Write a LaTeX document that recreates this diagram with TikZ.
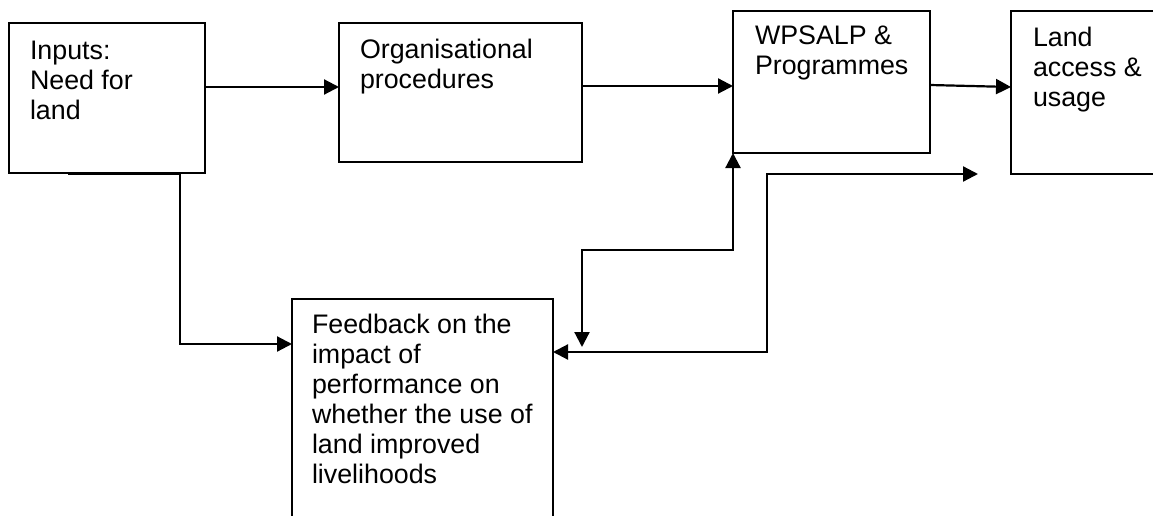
\documentclass[tikz,border=0pt]{standalone}
\usepackage{fontspec}
\setmainfont{Liberation Sans}
\usetikzlibrary{arrows.meta,calc}
\begin{document}
\begin{tikzpicture}[x=1pt,y=-1pt,
  box/.style={draw, line width=1.4pt, rectangle, inner sep=0pt, outer sep=0pt, anchor=north west},
  lbl/.style={anchor=north west, inner sep=0pt, outer sep=0pt, align=left, font=\fontsize{26.8}{30}\selectfont},
  conn/.style={line width=2.2pt, -{Triangle[length=15pt,width=15pt]}},
  dconn/.style={line width=2.2pt, {Triangle[length=15pt,width=15pt]}-{Triangle[length=15pt,width=15pt]}}]
\useasboundingbox (0,0) rectangle (1153,516);
\clip (0,0) rectangle (1153,516);
\fill[white] (0,0) rectangle (1153,516);
% boxes
\node[box, minimum width=196pt, minimum height=150pt] (inp) at (9,23) {};
\node[box, minimum width=243pt, minimum height=139pt] (org) at (339,23) {};
\node[box, minimum width=197pt, minimum height=142pt] (wps) at (733,11) {};
\node[box, minimum width=170pt, minimum height=163pt] (land) at (1011,11) {};
\node[box, minimum width=261pt, minimum height=240pt] (fb) at (292,299) {};
% texts
\node[lbl] (inpt) at ([xshift=21pt,yshift=-18pt]inp.north west) {Inputs:\\Need for\\land};
\node[lbl] (orgt) at ([xshift=21pt,yshift=-16.5pt]org.north west) {Organisational\\procedures};
\node[lbl] (wpst) at ([xshift=22pt,yshift=-14.7pt]wps.north west) {WPSALP \&\\Programmes};
\node[lbl] (landt) at ([xshift=22pt,yshift=-15.7pt]land.north west) {Land\\access \&\\usage};
\node[lbl] (fbt) at ([xshift=20pt,yshift=-14.7pt]fb.north west) {Feedback on the\\impact of\\performance on\\whether the use of\\land improved\\livelihoods};
% free ends
\coordinate (fbA) at (582,347);
\coordinate (free) at (978,174);
% connectors
\draw[conn] ([yshift=-64pt]inp.north east) -- ([yshift=-64pt]org.north west);
\draw[conn] ([yshift=-63pt]org.north east) -- ([yshift=-75pt]wps.north west);
\draw[conn] ([yshift=-74pt]wps.north east) -- ([yshift=-76pt]land.north west);
\draw[conn] ([xshift=59pt,yshift=-1pt]inp.south west) -- ([xshift=171pt,yshift=-1pt]inp.south west) |- ([yshift=-45pt]fb.north west);
\draw[dconn] (fbA) |- ([yshift=-97pt]wps.south west) -- (wps.south west);
\draw[dconn] ([yshift=-53pt]fb.north east) -| ([xshift=-211pt]free) -- (free);
\end{tikzpicture}
\end{document}
